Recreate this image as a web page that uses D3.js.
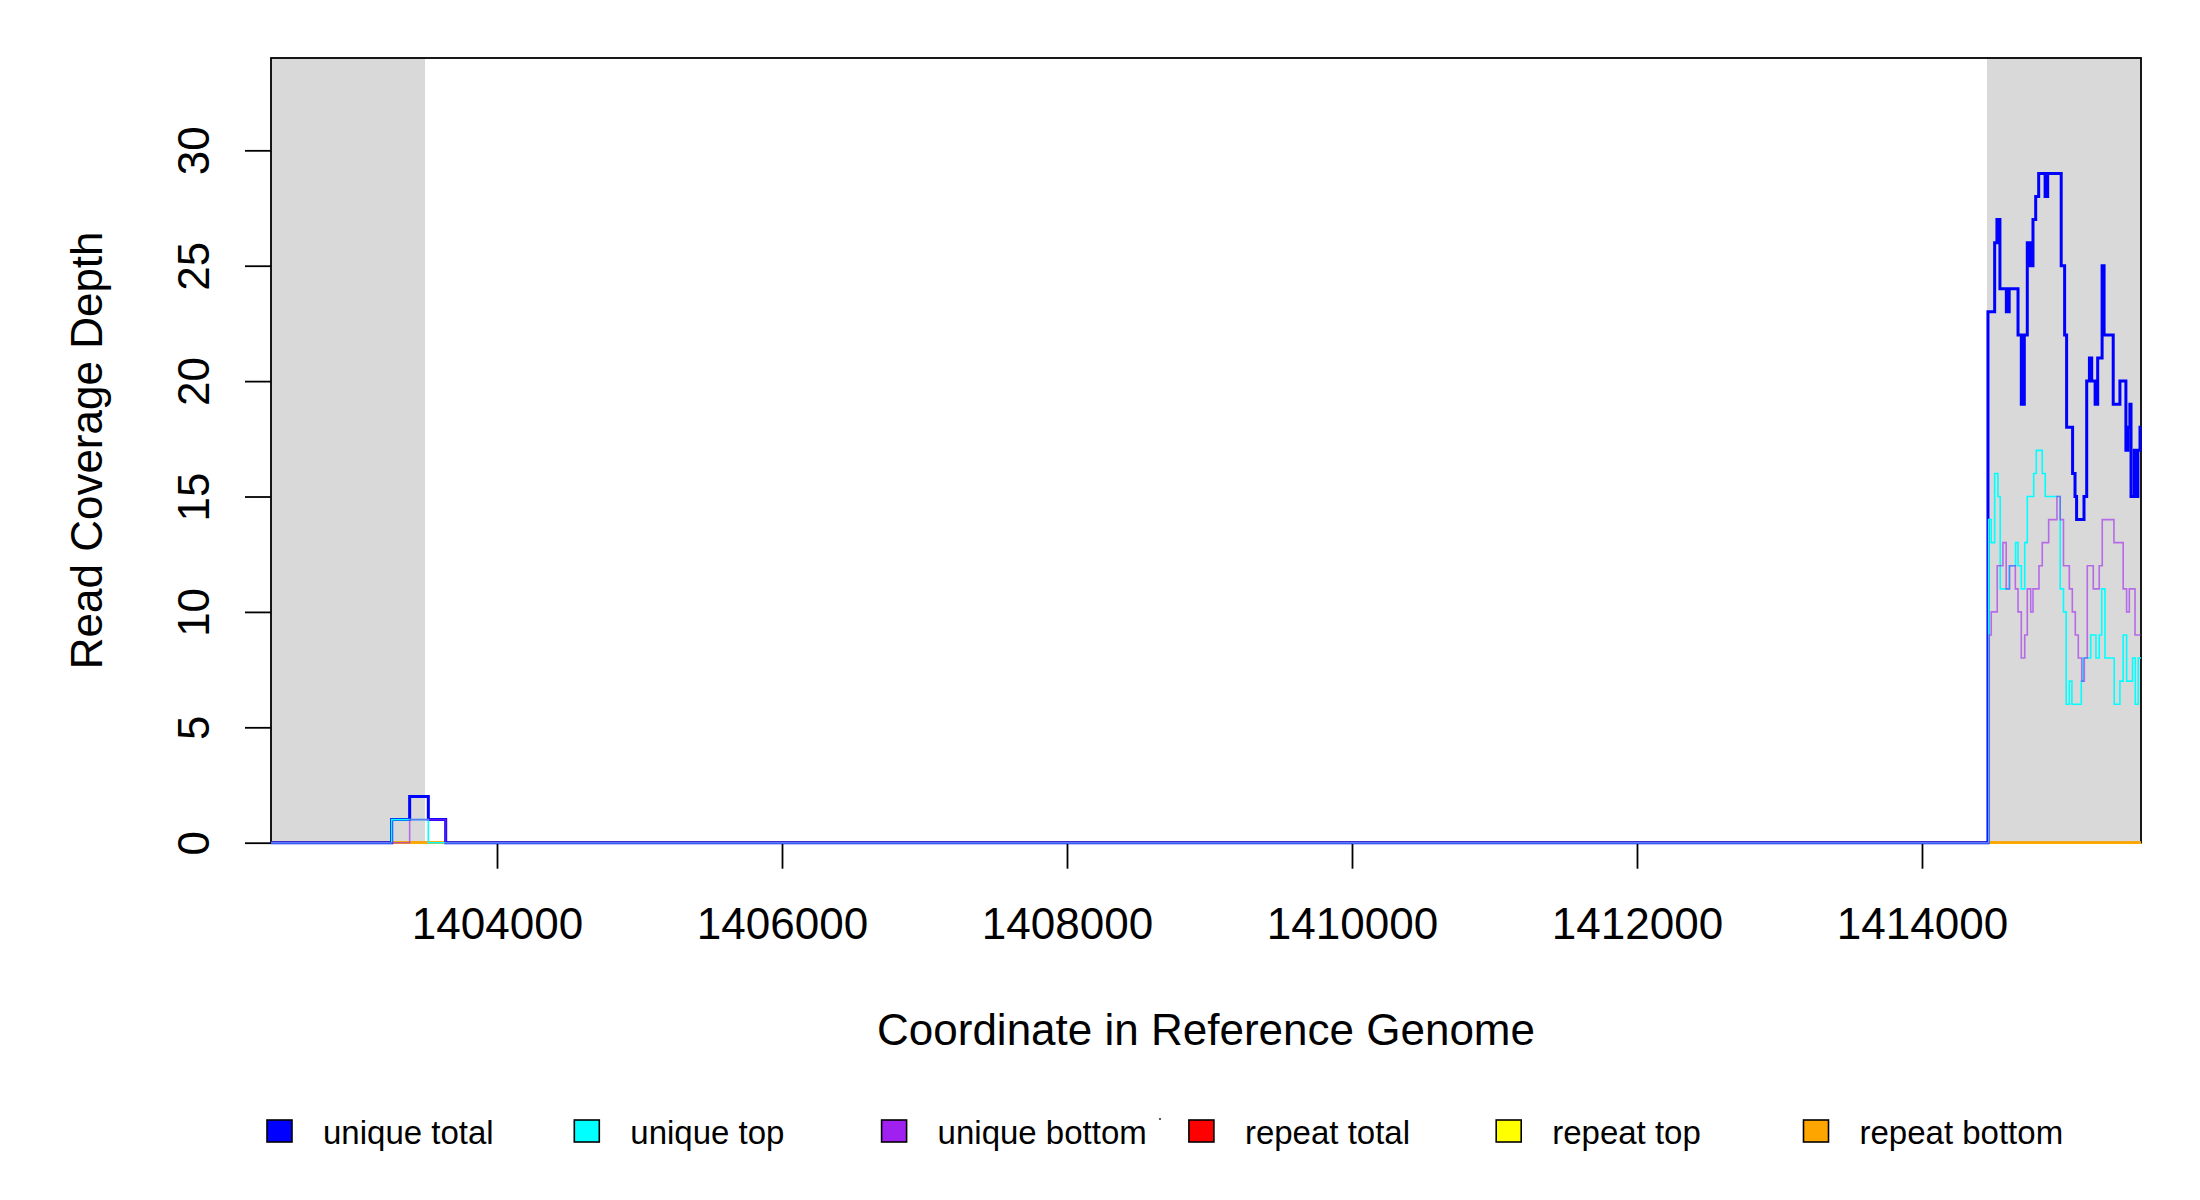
<!DOCTYPE html>
<html><head><meta charset="utf-8">
<script src="https://cdn.jsdelivr.net/npm/d3@7"></script>
<style>body{margin:0;background:#fff} svg{display:block}</style>
</head><body>
<svg id="chart" width="2200" height="1200"></svg>
<script>
// ---------------- data ----------------
const xDomain = [1402414, 1415537];
const yDomain = [0, 34];
const xTicks = [1404000, 1406000, 1408000, 1410000, 1412000, 1414000];
const yTicks = [0, 5, 10, 15, 20, 25, 30];
const shadedRegions = [[1402414, 1403495], [1414456, 1415537]];

// step series: [start coordinate, depth]
const uniqueTotal = [
  [1402414,0],[1403261,1],[1403387,2],[1403518,1],[1403640,0],
  [1414463,23],[1414510,26],[1414526,27],[1414547,24],[1414592,23],[1414612,24],[1414674,22],
  [1414697,19],[1414718,22],[1414739,26],[1414750,25],[1414760,26],[1414768,25],[1414779,27],
  [1414798,28],[1414819,29],[1414864,28],[1414882,29],[1414977,25],[1415001,22],[1415015,18],
  [1415057,16],[1415074,15],[1415085,14],[1415137,15],[1415156,20],[1415175,21],[1415191,20],
  [1415215,19],[1415233,21],[1415264,25],[1415278,22],[1415342,19],[1415389,20],[1415431,17],
  [1415445,18],[1415459,19],[1415467,15],[1415490,17],[1415500,15],[1415515,17],[1415530,18],
  [1415537,18]
];
const uniqueTop = [
  [1402414,0],[1403261,1],[1403518,0],
  [1414468,14],[1414486,13],[1414510,16],[1414533,15],[1414549,11],[1414612,12],[1414657,13],
  [1414674,12],[1414697,11],[1414721,13],[1414739,15],[1414784,16],[1414802,17],[1414844,16],
  [1414865,15],[1414970,11],[1414993,10],[1415012,6],[1415034,7],[1415052,6],[1415118,7],
  [1415132,8],[1415184,9],[1415221,8],[1415244,9],[1415261,11],[1415284,8],[1415349,6],
  [1415389,7],[1415412,9],[1415436,7],[1415478,8],[1415497,6],[1415518,8],[1415537,8]
];
const uniqueBottom = [
  [1402414,0],[1403387,1],[1403640,0],
  [1414472,9],[1414486,10],[1414528,12],[1414568,13],[1414591,11],[1414615,12],[1414655,11],
  [1414674,10],[1414697,8],[1414721,9],[1414739,11],[1414763,10],[1414779,11],[1414821,12],
  [1414844,13],[1414889,14],[1414947,15],[1414970,14],[1414993,12],[1415034,11],[1415055,10],
  [1415076,9],[1415097,8],[1415121,7],[1415139,8],[1415160,12],[1415202,11],[1415244,12],
  [1415265,14],[1415347,13],[1415412,11],[1415436,10],[1415455,11],[1415495,9],[1415537,9]
];
const repeatTotal  = [[1402414,0],[1415537,0]];
const repeatTop    = [[1402414,0],[1415537,0]];
const repeatBottom = [[1402414,0],[1415537,0]];

const seriesNames  = ["unique total","unique top","unique bottom","repeat total","repeat top","repeat bottom"];
const seriesColors = ["#0000FF","#00FFFF","#A020F0","#FF0000","#FFFF00","#FFA500"];

// ---------------- drawing ----------------
const svg = d3.select("#chart");
const font = "'Liberation Sans', Arial, Helvetica, sans-serif";
const L = 271, R = 2141, T = 58, B = 842.7;
const x = d3.scaleLinear().domain(xDomain).range([L, R]);
const y = d3.scaleLinear().domain(yDomain).range([B, T]);

svg.append("rect").attr("width",2200).attr("height",1200).attr("fill","#fff");

// shaded flanks
svg.selectAll("rect.shade").data(shadedRegions).enter().append("rect")
  .attr("class","shade")
  .attr("x", d => x(d[0])).attr("width", d => x(d[1]) - x(d[0]))
  .attr("y", T).attr("height", B - T)
  .attr("fill", "#D9D9D9");

// box
svg.append("rect").attr("x",L).attr("y",T).attr("width",R-L).attr("height",B-T)
  .attr("fill","none").attr("stroke","#000").attr("stroke-width",1.8);

// axes
const xAxis = d3.axisBottom(x).tickValues(xTicks).tickSize(26).tickPadding(39)
  .tickFormat(d3.format("d"));
const gx = svg.append("g").attr("transform",`translate(0,${B})`).call(xAxis);
gx.select(".domain").remove();
gx.selectAll("line").attr("stroke","#000").attr("stroke-width",1.8);
gx.selectAll("text").attr("font-family",font).attr("font-size",44).attr("fill","#000");

const yAxis = d3.axisLeft(y).tickValues(yTicks).tickSize(26);
const gy = svg.append("g").attr("transform",`translate(${L},0)`).call(yAxis);
gy.select(".domain").remove();
gy.selectAll("line").attr("stroke","#000").attr("stroke-width",1.8);
gy.selectAll("text")
  .attr("x", null).attr("dy", null)
  .attr("transform", "translate(-62,0) rotate(-90)")
  .attr("text-anchor","middle")
  .attr("font-family",font).attr("font-size",44).attr("fill","#000");

// axis titles
svg.append("text").attr("x",(L+R)/2).attr("y",1045).attr("text-anchor","middle")
  .attr("font-family",font).attr("font-size",44).text("Coordinate in Reference Genome");
svg.append("text").attr("transform",`translate(102,${(T+B)/2}) rotate(-90)`)
  .attr("text-anchor","middle").attr("font-family",font).attr("font-size",44)
  .text("Read Coverage Depth");

// step lines
const line = d3.line().x(d => x(d[0])).y(d => y(d[1])).curve(d3.curveStepAfter);
const drawOrder = [
  {data: repeatTotal,  color: seriesColors[3], w: 2.2, op: 1},
  {data: repeatTop,    color: seriesColors[4], w: 2.2, op: 1},
  {data: repeatBottom, color: seriesColors[5], w: 2.2, op: 1},
  {data: uniqueTotal,  color: seriesColors[0], w: 3, op: 1},
  {data: uniqueTop,    color: seriesColors[1], w: 1.6, op: 1},
  {data: uniqueBottom, color: seriesColors[2], w: 1.6, op: 0.6}
];
svg.selectAll("path.series").data(drawOrder).enter().append("path")
  .attr("class","series")
  .attr("d", d => line(d.data))
  .attr("fill","none")
  .attr("stroke", d => d.color)
  .attr("stroke-width", d => d.w)
  .attr("stroke-opacity", d => d.op)
  .attr("stroke-linejoin","miter");

// legend
const legend = svg.append("g");
const items = legend.selectAll("g").data(seriesNames).enter().append("g")
  .attr("transform",(d,i)=>`translate(${267 + i*307.3},1120)`);
items.append("rect").attr("width",25).attr("height",22)
  .attr("fill",(d,i)=>seriesColors[i]).attr("stroke","#000").attr("stroke-width",1.6);
items.append("text").attr("x",56).attr("y",23.5)
  .attr("font-family",font).attr("font-size",33).text(d=>d);
legend.append("circle").attr("cx",1160).attr("cy",1119).attr("r",1.1).attr("fill","#333");
</script>
</body></html>
